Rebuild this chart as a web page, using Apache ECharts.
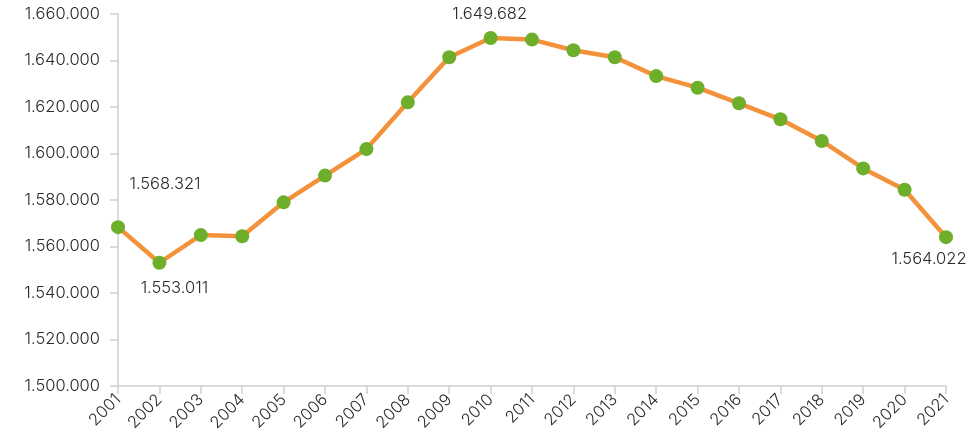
<!DOCTYPE html>
<html>
<head>
<meta charset="utf-8">
<script src="https://cdn.jsdelivr.net/npm/echarts@6/dist/echarts.min.js"></script>
<style>html,body{margin:0;padding:0;background:#fff}#c{width:979px;height:444px}</style>
</head>
<body>
<div id="c"></div>
<script>
const years = ['2001','2002','2003','2004','2005','2006','2007','2008','2009','2010','2011','2012','2013','2014','2015','2016','2017','2018','2019','2020','2021'];
const values = [1568321,1553011,1564900,1564400,1579000,1590500,1601900,1622000,1641400,1649682,1649000,1644400,1641400,1633300,1628300,1621600,1614700,1605400,1593600,1584400,1564022];
const labelledIdx = [0,1,9,20];

const FONT = 'Inter';
const FW = 300;
const FS = 16.5;
const TXT = '#2a2a2a';
function fmt(v){ return String(Math.round(v)).replace(/\B(?=(\d{3})+(?!\d))/g,'.'); }
const labelOffsets = {0:[47,-43],1:[15,25],9:[-1,-24],20:[-17,22]};

const data = values.map((v,i)=>{
  const item = {value:v};
  if (labelledIdx.includes(i)) {
    item.label = {show:true, position:'inside', offset:labelOffsets[i], formatter:p=>fmt(p.value),
      color:TXT, fontFamily:FONT, fontWeight:FW, fontSize:FS};
  }
  return item;
});

const chart = echarts.init(document.getElementById('c'), null, {renderer:'canvas'});
chart.setOption({
  animation:false,
  grid:{left:118,right:33,top:14,bottom:58,containLabel:false,outerBoundsMode:'none'},
  xAxis:{type:'category',data:years,boundaryGap:false,
    axisLine:{lineStyle:{color:'#d0d0d0',width:1.5}},
    axisTick:{show:true,alignWithLabel:true,length:8,lineStyle:{color:'#d0d0d0',width:1.5}},
    axisLabel:{rotate:45,color:TXT,fontFamily:FONT,fontWeight:FW,fontSize:FS,margin:11,interval:0}},
  yAxis:{type:'value',min:1500000,max:1660000,interval:20000,
    axisLine:{show:true,lineStyle:{color:'#d0d0d0',width:1.5}},
    axisTick:{show:true,length:8,lineStyle:{color:'#d0d0d0',width:1.5}},
    splitLine:{show:false},
    axisLabel:{color:TXT,fontFamily:FONT,fontWeight:FW,fontSize:FS,margin:18,formatter:v=>fmt(v)}},
  series:[{type:'line',data:data,symbol:'circle',symbolSize:14,
    lineStyle:{color:'#F3923B',width:4.5},
    itemStyle:{color:'#6DAE2A',borderWidth:0},
    label:{show:false},
    emphasis:{disabled:true}}]
});
</script>
</body>
</html>
